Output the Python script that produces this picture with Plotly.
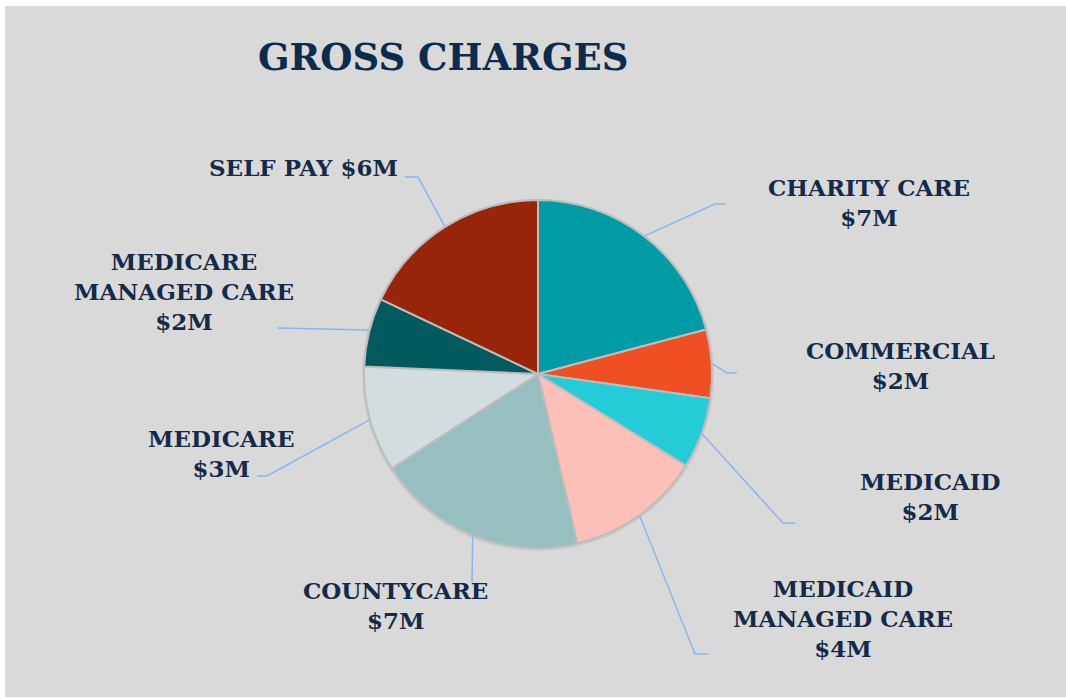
import math
import plotly.graph_objects as go

# ---- data ----
categories = ["CHARITY CARE", "COMMERCIAL", "MEDICAID", "MEDICAID<br>MANAGED CARE",
              "COUNTYCARE", "MEDICARE", "MEDICARE<br>MANAGED CARE", "SELF PAY"]
values_musd = [7.1, 2.16, 2.24, 4.26, 6.64, 3.33, 2.17, 6.1]
value_labels = ["$7M", "$2M", "$2M", "$4M", "$7M", "$3M", "$2M", "$6M"]
colors = ["#009CA6", "#F04E23", "#24CCD8", "#FCC0B8", "#97BEC1", "#D3DCDE", "#005A5E", "#98240A"]

# ---- layout constants (pixels) ----
W, H = 1066, 699
CX, CY, R = 538, 374, 174

# label layout: (elbow x, elbow y, end x, end y, text center x, text center y, separator)
label_layout = [
    (715, 204, 726, 204, 869, 203, "<br>"),
    (727, 373, 737, 373, 900, 365, "<br>"),
    (783, 523, 795, 523, 930, 496, "<br>"),
    (695, 654, 708, 654, 843, 618, "<br>"),
    (472, 582, 472, 582, 395, 605, "<br>"),
    (267, 476, 257, 476, 221, 453, "<br>"),
    (367, 330, 278, 328, 184, 292, "<br>"),
    (418, 177, 405, 177, 303, 167, " "),
]

def px(x):
    return x / W

def py(y):
    return 1 - y / H

font_family = "Georgia, 'DejaVu Serif', serif"
text_color = "#142A48"
line_color = "#8AB6EC"

fig = go.Figure()
fig.add_trace(go.Pie(
    labels=categories,
    values=values_musd,
    sort=False,
    direction="clockwise",
    rotation=0,
    textinfo="none",
    hoverinfo="label+value",
    marker=dict(colors=colors, line=dict(color="#BDBDBD", width=2)),
    domain=dict(x=[px(CX - R), px(CX + R)], y=[py(CY + R), py(CY - R)]),
    showlegend=False,
))

shapes = [dict(type="rect", xref="paper", yref="paper",
               x0=px(5), x1=1, y0=py(697), y1=py(6),
               fillcolor="#D9D9D9", line=dict(width=0), layer="below"),
          dict(type="circle", xref="paper", yref="paper",
               x0=px(CX - R - 2), x1=px(CX + R + 2), y0=py(CY + R + 3), y1=py(CY - R - 1),
               fillcolor="#CBCBCB", line=dict(width=0), layer="below")]

annotations = [dict(text="<b>GROSS CHARGES</b>", xref="paper", yref="paper",
                    x=px(443), y=py(57), xanchor="center", yanchor="middle",
                    showarrow=False, font=dict(family=font_family, size=37, color="#0D2B4E"))]

total = sum(values_musd)
cum = 0.0
for cat, v, vl, lay in zip(categories, values_musd, value_labels, label_layout):
    mid = (cum + v / 2) / total * 2 * math.pi
    cum += v
    ex = CX + R * math.sin(mid)
    ey = CY - R * math.cos(mid)
    kx, ky, tx, ty, lx, ly, sep = lay
    path = f"M {px(ex)} {py(ey)} L {px(kx)} {py(ky)} L {px(tx)} {py(ty)}"
    shapes.append(dict(type="path", xref="paper", yref="paper", path=path,
                       line=dict(color=line_color, width=1.5), layer="below"))
    annotations.append(dict(text=f"<b>{cat}{sep}{vl}</b>", xref="paper", yref="paper",
                            x=px(lx), y=py(ly), xanchor="center", yanchor="middle",
                            showarrow=False, align="center",
                            font=dict(family=font_family, size=23, color=text_color)))

fig.update_layout(
    width=W, height=H,
    margin=dict(l=0, r=0, t=0, b=0),
    paper_bgcolor="white",
    plot_bgcolor="white",
    shapes=shapes,
    annotations=annotations,
)

fig.write_html("out.html",
               config={"displayModeBar": False},
               post_script="document.body.style.margin='0px';document.body.style.overflow='hidden';")
